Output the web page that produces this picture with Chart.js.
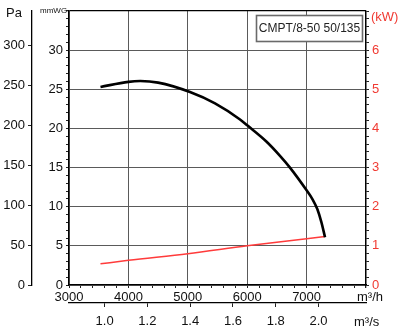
<!DOCTYPE html>
<html>
<head>
<meta charset="utf-8">
<script src="https://cdn.jsdelivr.net/npm/chart.js@4/dist/chart.umd.min.js"></script>
<style>
  html, body { margin: 0; padding: 0; background: #fff; }
  #wrap { width: 400px; height: 332px; }
</style>
</head>
<body>
<div id="wrap"><canvas id="fanChart"></canvas></div>
<script>
const MODEL_LABEL = "CMPT/8-50 50/135";

// black curve: static pressure (mmWG) against flow (m3/h)
const pressureFlow = [3530, 4000, 4200, 4500, 5037, 5458, 5879, 6000, 6327, 6552, 6720, 7000, 7100, 7180, 7250, 7310];
const pressureMmwg = [25.3, 25.95, 26.05, 25.85, 24.65, 23.2, 21.15, 20.4, 18.3, 16.5, 15.0, 12.1, 10.95, 9.7, 8.0, 6.1];

// red curve: absorbed power (kW)
const powerFlow = [3530, 4000, 5000, 6000, 7000, 7310];
const powerKw = [0.54, 0.63, 0.80, 1.00, 1.18, 1.24];

// tick labels
const flowTicks = [3000, 4000, 5000, 6000, 7000];
const flowSecTicks = [1.0, 1.2, 1.4, 1.6, 1.8, 2.0];
const mmwgTicks = [0, 5, 10, 15, 20, 25, 30];
const paTicks = [0, 50, 100, 150, 200, 250, 300];
const kwTicks = [0, 1, 2, 3, 4, 5, 6];

const FLOW_MIN = 3000;
const FLOW_MAX = 8000;
const MMWG_MAX = 35;
const KW_MAX = 7;
const PA_PER_MMWG = 9.80665;

const FONT = "'Liberation Sans', Arial, sans-serif";
const RED = "#f03a32";
const GRID = "#5a5a5a";

function steps(from, to, step) {
  const out = [];
  const n = Math.round((to - from) / step);
  for (let i = 0; i <= n; i++) out.push(Math.round((from + i * step) * 1000) / 1000);
  return out;
}

function isIn(list, v) {
  return list.some(t => Math.abs(t - v) < 1e-6);
}

function setTicks(values) {
  return scale => { scale.ticks = values.map(value => ({ value })); };
}

function fixWidth(w) {
  return scale => {
    scale.width = w;
    scale.paddingTop = 0;
    scale.paddingBottom = 0;
  };
}

function fixHeight(h) {
  return scale => {
    scale.height = h;
    scale.paddingLeft = 0;
    scale.paddingRight = 0;
  };
}

const tickFont = { family: FONT, size: 13 };

const unitsPlugin = {
  id: "units",
  afterDraw(chart) {
    const ctx = chart.ctx;
    ctx.save();
    ctx.textBaseline = "middle";

    ctx.fillStyle = "#111";
    ctx.textAlign = "left";
    ctx.font = `13px ${FONT}`;
    ctx.fillText("Pa", 6, 13);

    ctx.font = `8px ${FONT}`;
    ctx.fillText("mmWG", 40, 11);

    ctx.font = `13px ${FONT}`;
    ctx.fillText("m³/h", 357, 297);
    ctx.fillText("m³/s", 354, 322);

    ctx.fillStyle = RED;
    ctx.fillText("(kW)", 371, 17);

    // model label box
    ctx.fillStyle = "#fff";
    ctx.fillRect(256, 15, 107, 27);
    ctx.strokeStyle = "#6a6a6a";
    ctx.lineWidth = 1.6;
    ctx.strokeRect(256.5, 15.5, 106, 26);
    ctx.fillStyle = "#222";
    ctx.textAlign = "center";
    ctx.font = `12px ${FONT}`;
    ctx.fillText(MODEL_LABEL, 309.5, 29);
    ctx.restore();
  }
};

new Chart(document.getElementById("fanChart"), {
  type: "line",
  data: {
    datasets: [
      {
        label: "mmWG",
        data: pressureFlow.map((x, i) => ({ x, y: pressureMmwg[i] })),
        xAxisID: "x",
        yAxisID: "y",
        borderColor: "#000",
        borderWidth: 2.6,
        pointRadius: 0,
        cubicInterpolationMode: "monotone",
        fill: false
      },
      {
        label: "kW",
        data: powerFlow.map((x, i) => ({ x, y: powerKw[i] })),
        xAxisID: "x",
        yAxisID: "yKw",
        borderColor: "#ff3b3b",
        borderWidth: 1.5,
        pointRadius: 0,
        cubicInterpolationMode: "monotone",
        fill: false
      }
    ]
  },
  options: {
    responsive: true,
    maintainAspectRatio: false,
    animation: false,
    layout: { padding: { top: 11, left: 0, right: 0, bottom: 0 } },
    plugins: {
      legend: { display: false },
      tooltip: { enabled: false }
    },
    scales: {
      x: {
        type: "linear",
        position: "bottom",
        weight: 0,
        min: FLOW_MIN,
        max: FLOW_MAX,
        afterBuildTicks: setTicks(steps(FLOW_MIN, FLOW_MAX, 200)),
        afterFit: fixHeight(18),
        border: { color: "#000", width: 1.3 },
        grid: {
          color: c => c.tick.value === FLOW_MAX ? "#000" : (isIn(flowTicks, c.tick.value) ? GRID : "rgba(0,0,0,0)"),
          lineWidth: c => c.tick.value === FLOW_MAX ? 1.3 : 1,
          tickColor: "#222",
          tickLength: 3
        },
        ticks: {
          autoSkip: false,
          maxRotation: 0,
          padding: 2,
          color: "#111",
          font: tickFont,
          callback: v => isIn(flowTicks, v) ? String(v) : ""
        }
      },
      xSec: {
        type: "linear",
        position: "bottom",
        weight: 1,
        min: FLOW_MIN / 3600,
        max: FLOW_MAX / 3600,
        afterBuildTicks: setTicks(flowSecTicks),
        afterFit: fixHeight(29),
        border: { color: "#000", width: 1.3 },
        grid: { drawOnChartArea: false, tickColor: "#222", tickLength: 4 },
        ticks: {
          autoSkip: false,
          maxRotation: 0,
          padding: 7,
          color: "#111",
          font: tickFont,
          callback: v => v.toFixed(1)
        }
      },
      y: {
        type: "linear",
        position: "left",
        weight: 0,
        min: 0,
        max: MMWG_MAX,
        afterBuildTicks: setTicks(steps(0, MMWG_MAX, 1)),
        afterFit: fixWidth(37),
        border: { color: "#000", width: 1.3 },
        grid: {
          color: c => c.tick.value === MMWG_MAX ? "#000" : (isIn(mmwgTicks, c.tick.value) ? GRID : "rgba(0,0,0,0)"),
          lineWidth: c => c.tick.value === MMWG_MAX ? 1.3 : 1,
          tickColor: "#222",
          tickLength: 3
        },
        ticks: {
          autoSkip: false,
          padding: 3,
          color: "#111",
          font: tickFont,
          callback: v => isIn(mmwgTicks, v) ? String(v) : ""
        }
      },
      yPa: {
        type: "linear",
        position: "left",
        weight: 1,
        min: 0,
        max: MMWG_MAX * PA_PER_MMWG,
        afterBuildTicks: setTicks(paTicks),
        afterFit: fixWidth(32),
        border: { color: "#000", width: 1.3 },
        grid: { drawOnChartArea: false, tickColor: "#222", tickLength: 4 },
        ticks: {
          autoSkip: false,
          padding: 3,
          color: "#111",
          font: tickFont,
          callback: v => String(v)
        }
      },
      yKw: {
        type: "linear",
        position: "right",
        min: 0,
        max: KW_MAX,
        afterBuildTicks: setTicks(steps(0, KW_MAX, 0.2)),
        afterFit: fixWidth(34),
        border: { color: "#000", width: 1.3 },
        grid: { drawOnChartArea: false, tickColor: "#222", tickLength: 3 },
        ticks: {
          autoSkip: false,
          padding: 3,
          color: RED,
          font: tickFont,
          callback: v => isIn(kwTicks, v) ? String(Math.round(v)) : ""
        }
      }
    }
  },
  plugins: [unitsPlugin]
});
</script>
</body>
</html>
